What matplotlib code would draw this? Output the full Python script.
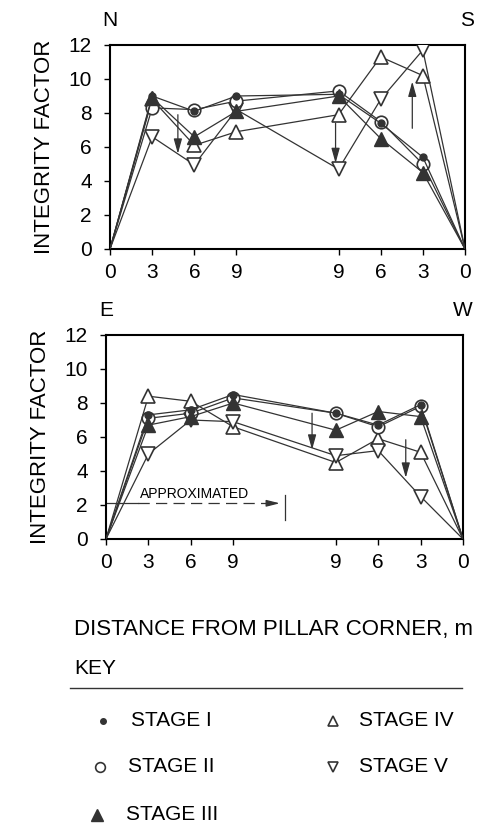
import matplotlib
matplotlib.use("Agg")
import matplotlib.pyplot as plt
from matplotlib.lines import Line2D

plt.rcParams['font.family'] = ['Liberation Sans', 'DejaVu Sans']

# ---- data ----
x_pos = [0, 1, 2, 3, 5.42, 6.42, 7.42, 8.42]
x_labels = ['0', '3', '6', '9', '9', '6', '3', '0']
y_ticks = [0, 2, 4, 6, 8, 10, 12]

# N-S section
ns_stage1 = [0, 9.0, 8.1, 9.0, 9.1, 7.4, 5.4, 0]
ns_stage2 = [0, 8.3, 8.2, 8.7, 9.3, 7.5, 5.0, 0]
ns_stage3 = [0, 8.9, 6.6, 8.1, 9.0, 6.5, 4.5, 0]
ns_stage4 = [0, 8.8, 6.1, 6.9, 7.9, 11.3, 10.2, 0]
ns_stage5 = [0, 6.6, 4.95, 8.2, 4.7, 8.8, 11.7, 0]
# arrows (x, y_start, y_end)
ns_arrows = [(1.61, 7.9, 5.6), (5.35, 7.4, 5.05), (7.17, 7.1, 9.85)]

# E-W section
ew_stage1 = [0, 7.3, 7.6, 8.5, 7.4, 6.7, 7.9, 0]
ew_stage2 = [0, 7.1, 7.4, 8.3, 7.4, 6.6, 7.8, 0]
ew_stage3 = [0, 6.7, 7.2, 8.0, 6.4, 7.5, 7.2, 0]
ew_stage4 = [0, 8.4, 8.1, 6.6, 4.5, 5.9, 5.1, 0]
ew_stage5 = [0, 5.0, 7.0, 6.9, 4.9, 5.2, 2.5, 0]
ew_arrows = [(4.86, 7.4, 5.25), (7.07, 5.84, 3.6)]

LC = '#333333'
W, H = 496, 824
fig = plt.figure(figsize=(W / 100, H / 100), dpi=100)
fig.patch.set_facecolor('white')

def fx(px):
    return px / W

def fy(py):
    return 1 - py / H

styles = {
    'I': dict(marker='o', ms=5, mfc=LC, mec=LC, mew=1.0),
    'II': dict(marker='o', ms=9, mfc='white', mec=LC, mew=1.2),
    'III': dict(marker='^', ms=10, mfc=LC, mec=LC, mew=1.0),
    'IV': dict(marker='^', ms=10, mfc='white', mec=LC, mew=1.2),
    'V': dict(marker='v', ms=10, mfc='white', mec=LC, mew=1.2),
}

def draw_panel(rect, series, arrows, left_lbl, right_lbl, lbl_y, lbl_x):
    ax = fig.add_axes(rect)
    order = ['IV', 'V', 'II', 'III', 'I']
    inner = list(range(1, len(x_pos) - 1))
    for key in order:
        ax.plot(x_pos, series[key], color=LC, lw=0.9, zorder=3,
                markevery=inner, **styles[key])
    for (x, y0, y1) in arrows:
        ax.annotate('', xy=(x, y1), xytext=(x, y0),
                    arrowprops=dict(arrowstyle='-|>,head_length=0.9,head_width=0.25',
                                    color=LC, lw=0.9, shrinkA=0, shrinkB=0),
                    zorder=4)
    ax.set_xlim(x_pos[0], x_pos[-1])
    ax.set_ylim(0, 12)
    ax.set_xticks(x_pos)
    ax.set_xticklabels(x_labels)
    ax.set_yticks(y_ticks)
    ax.tick_params(direction='out', length=4, width=1, labelsize=15, pad=6)
    ax.tick_params(axis='y', pad=9)
    for s in ax.spines.values():
        s.set_linewidth(1.5)
    ax.set_ylabel('INTEGRITY FACTOR', fontsize=16, labelpad=10)
    fig.text(fx(lbl_x[0]), fy(lbl_y), left_lbl, fontsize=15, ha='center', va='center')
    fig.text(fx(lbl_x[1]), fy(lbl_y), right_lbl, fontsize=15, ha='center', va='center')
    return ax

top = draw_panel([fx(110), fy(249), fx(465) - fx(110), fy(45) - fy(249)],
                 {'I': ns_stage1, 'II': ns_stage2, 'III': ns_stage3, 'IV': ns_stage4, 'V': ns_stage5},
                 ns_arrows, 'N', 'S', 20, (110, 467))
bot = draw_panel([fx(106), fy(539), fx(463) - fx(106), fy(335) - fy(539)],
                 {'I': ew_stage1, 'II': ew_stage2, 'III': ew_stage3, 'IV': ew_stage4, 'V': ew_stage5},
                 ew_arrows, 'E', 'W', 310, (106, 463))

# "APPROXIMATED" annotation in lower panel
approx_y = 2.1
approx_end = 4.1
bot.plot([0, 0.75], [approx_y, approx_y], color=LC, lw=0.9, zorder=2)
bot.plot([0.75, approx_end - 0.2], [approx_y, approx_y], color=LC, lw=0.9,
         ls=(0, (9, 5)), zorder=2)
bot.annotate('', xy=(approx_end, approx_y), xytext=(approx_end - 0.3, approx_y),
             arrowprops=dict(arrowstyle='-|>,head_length=0.8,head_width=0.2',
                             color=LC, lw=0.9, shrinkA=0, shrinkB=0))
bot.plot([4.22, 4.22], [1.1, 2.6], color=LC, lw=0.9)
bot.text(0.8, 2.65, 'APPROXIMATED', fontsize=10, ha='left', va='center')

# x-axis title
fig.text(fx(74), fy(629), 'DISTANCE FROM PILLAR CORNER, m', fontsize=16,
         ha='left', va='center')

# key
fig.text(fx(74), fy(668), 'KEY', fontsize=15, ha='left', va='center')
fig.add_artist(Line2D([fx(70), fx(462)], [fy(688), fy(688)], color=LC, lw=1.0))

key_items = [
    ('I', 'STAGE I', 103, 131, 721),
    ('II', 'STAGE II', 100, 128, 767),
    ('III', 'STAGE III', 97, 126, 815),
    ('IV', 'STAGE IV', 333, 359, 721),
    ('V', 'STAGE V', 333, 359, 767),
]
key_ms = {'I': 4, 'II': 7, 'III': 8, 'IV': 7, 'V': 7}
for key, label, mx, tx, yy in key_items:
    st = dict(styles[key])
    st['ms'] = key_ms[key]
    fig.add_artist(Line2D([fx(mx)], [fy(yy)], ls='none', **st))
    fig.text(fx(tx), fy(yy), label, fontsize=15, ha='left', va='center')

fig.savefig('out.png', dpi=100, facecolor='white')
